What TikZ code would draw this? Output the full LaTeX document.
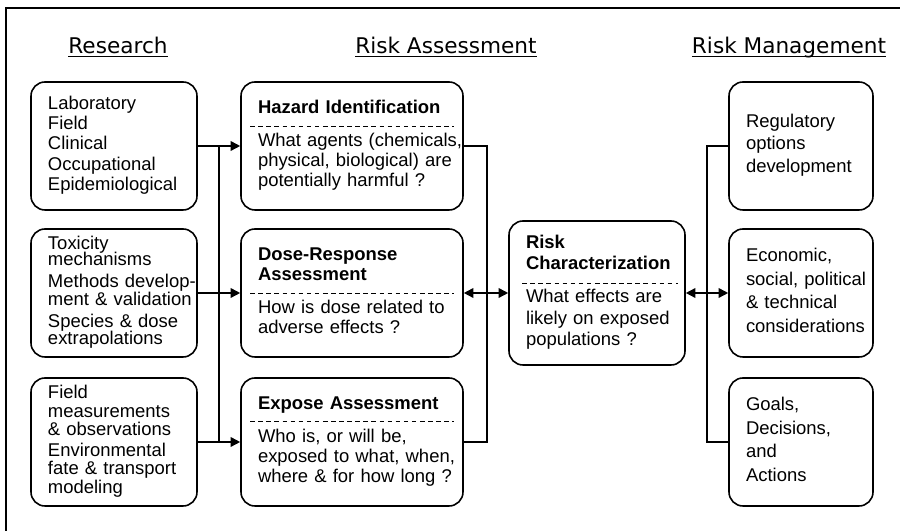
\documentclass[tikz,border=0pt]{standalone}
\usepackage{fontspec}
\setmainfont{Liberation Sans}
\newfontfamily\headfont{DejaVu Sans}
\usepackage{tikz}
\usetikzlibrary{arrows.meta, calc}
\newcommand{\boxlines}[1]{\begin{tabular}{@{}l@{}}#1\end{tabular}}

\begin{document}
\begin{tikzpicture}[x=0.2mm, y=-0.2mm,
    box/.style={draw, line width=0.9pt, rounded corners=2.8mm,
      text width=#1, align=left, inner xsep=3.4mm, minimum height=25.6mm,
      font=\fontsize{10.5}{11.4}\selectfont},
    head/.style={anchor=base, font=\headfont\fontsize{12.3}{13}\selectfont},
    wire/.style={line width=0.9pt},
    link/.style={wire, -{Triangle[length=5.5pt, width=5.5pt]}},
    both/.style={wire, {Triangle[length=5.5pt, width=5.5pt]}-{Triangle[length=5.5pt, width=5.5pt]}},
    sep/.style={line width=0.6pt, dash pattern=on 2.6pt off 2pt}]
  \useasboundingbox (0,0) rectangle (900,531);
  \def\rowA{146} \def\rowB{293} \def\rowC{442}

  % Frame
  \draw[line width=1.1pt] (6,531) -- (6,8) -- (900,8);

  % Column heads
  \node[head] (hres) at (118,54) {\underline{\smash{Research}}};
  \node[head] (hass) at (446,54) {\underline{\smash{Risk Assessment}}};
  \node[head] (hman) at (789,54) {\underline{\smash{Risk Management}}};

  % Research
  \node[box=26.4mm] (lab) at (114,\rowA)
    {\boxlines{Laboratory\\ Field\\ Clinical\\ Occupational\\ Epidemiological}};
  \node[box=26.4mm] (tox) at (114,\rowB)
    {\boxlines{Toxicity\\[-2pt] mechanisms\\[1pt] Methods develop-\\[-1pt]
      ment \& validation\\[1pt] Species \& dose\\[-1.5pt] extrapolations}};
  \node[box=26.4mm] (field) at (114,\rowC)
    {\boxlines{Field\\[-1pt] measurements\\[-1pt] \& observations\\[0.5pt]
      Environmental\\[-1pt] fate \& transport\\[-1pt] modeling}};

  % Risk assessment
  \node[box=37.6mm] (hazard) at (352,\rowA)
    {\boxlines{\textbf{Hazard Identification}\\[7.5pt] What agents (chemicals,\\
      physical, biological) are\\ potentially harmful ?}};
  \node[box=37.6mm] (dose) at (352,\rowB)
    {\boxlines{\textbf{Dose-Response}\\ \textbf{Assessment}\\[7.5pt]
      How is dose related to\\ adverse effects ?}};
  \node[box=37.6mm] (expose) at (352,\rowC)
    {\boxlines{\textbf{Expose Assessment}\\[7.5pt] Who is, or will be,\\
      exposed to what, when,\\ where \& for how long ?}};
  \node[box=28.4mm, minimum height=28.8mm] (risk) at (597,\rowB)
    {\boxlines{\textbf{Risk}\\[1pt] \textbf{Characterization}\\[7pt]
      What effects are\\[1pt] likely on exposed\\[1pt] populations ?}};

  % Risk management
  \node[box=22mm] (reg) at (801,\rowA)
    {\boxlines{Regulatory\\[1.5pt] options\\[1.5pt] development}};
  \node[box=22mm] (econ) at (801,\rowB)
    {\boxlines{Economic,\\[2pt] social, political\\[2pt] \& technical\\[2pt] considerations}};
  \node[box=22mm] (goals) at (801,\rowC)
    {\boxlines{Goals,\\[2pt] Decisions,\\[2pt] and\\[2pt] Actions}};

  % Dashed separators
  \draw[sep] ($(hazard.north west)+(10,45)$) -- ($(hazard.north east)+(-10,45)$);
  \draw[sep] ($(dose.north west)+(10,65)$) -- ($(dose.north east)+(-10,65)$);
  \draw[sep] ($(expose.north west)+(10,44)$) -- ($(expose.north east)+(-10,44)$);
  \draw[sep] ($(risk.north west)+(14,63)$) -- ($(risk.north east)+(-8,63)$);

  % Research -> assessment
  \coordinate (jl) at (219,0);
  \draw[link] (lab.east) -- (hazard.west);
  \draw[link] (tox.east) -- (dose.west);
  \draw[link] (field.east) -- (expose.west);
  \draw[wire] (lab.east -| jl) -- (field.east -| jl);

  % Assessment <-> characterization
  \coordinate (jm) at (487,0);
  \draw[wire] (hazard.east) -- (hazard.east -| jm) -- (expose.east -| jm) -- (expose.east);
  \draw[both] (dose.east) -- (risk.west);

  % Characterization <-> management
  \coordinate (jr) at (707,0);
  \draw[wire] (reg.west) -- (reg.west -| jr) -- (goals.west -| jr) -- (goals.west);
  \draw[both] (risk.east) -- (econ.west);
\end{tikzpicture}
\end{document}
